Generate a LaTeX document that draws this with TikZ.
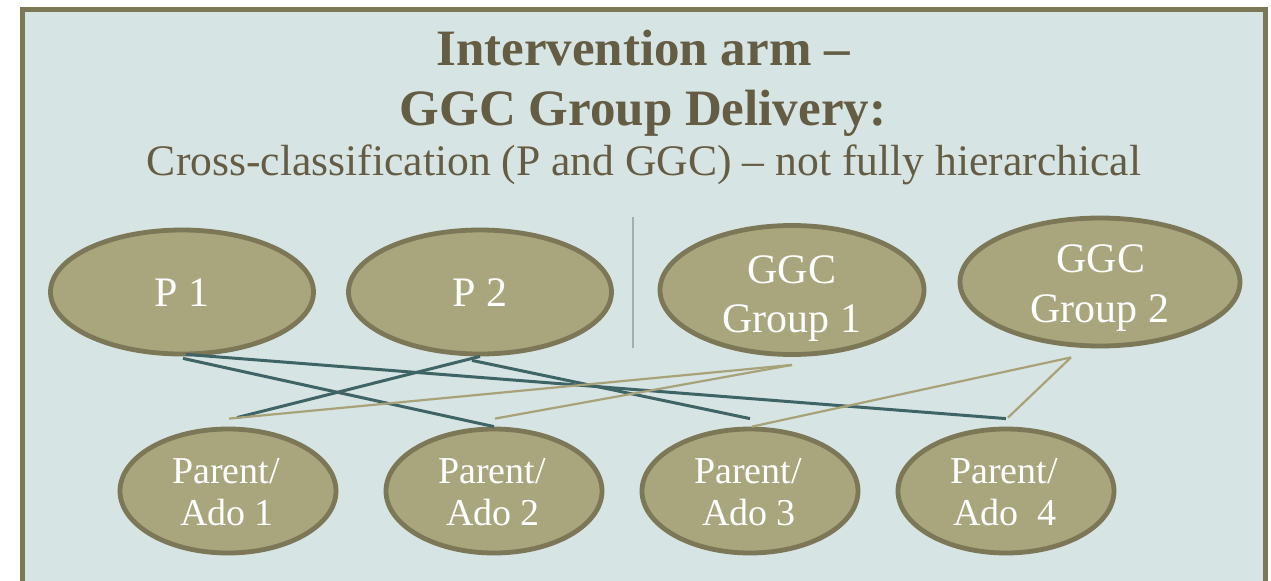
\documentclass[tikz,border=0pt]{standalone}
\usepackage{fontspec}
\setmainfont{Liberation Serif}
\usetikzlibrary{shapes.geometric,calc}
\definecolor{framec}{HTML}{7B7757}
\definecolor{bgc}{HTML}{D6E4E3}
\definecolor{ellc}{HTML}{A9A67D}
\definecolor{titlec}{HTML}{655C44}
\definecolor{tealc}{HTML}{3F6466}
\definecolor{tanc}{HTML}{A8A278}
\definecolor{sepc}{HTML}{9FB0AE}
\begin{document}
\begin{tikzpicture}[x=0.5pt,y=-0.5pt,
  bubble/.style={ellipse, draw=framec, line width=2.4pt, fill=ellc, inner sep=0pt},
  pbub/.style={bubble, minimum width=131.5pt, minimum height=62pt},
  abub/.style={bubble, minimum width=108pt, minimum height=62pt},
  titletxt/.style={anchor=base, inner sep=0pt, text=titlec, font=\fontsize{25.5}{29}\selectfont\bfseries},
  subtxt/.style={anchor=base, inner sep=0pt, text=titlec, font=\fontsize{21.8}{25}\selectfont},
  bigtxt/.style={anchor=base, inner sep=0pt, text=white, font=\fontsize{21}{24}\selectfont},
  smalltxt/.style={anchor=base, inner sep=0pt, text=white, font=\fontsize{19}{21}\selectfont},
  tealline/.style={draw=tealc, line width=1.5pt},
  tanline/.style={draw=tanc, line width=1.1pt},
  sepline/.style={draw=sepc, line width=1pt}
]
\useasboundingbox (0,0) rectangle (1271,580);
\fill[white] (0,0) rectangle (1271,580);
\draw[framec, line width=2.5pt, fill=bgc] (22.5,9) rectangle (1265.5,620);

% titles
\node[titletxt] (t1) at (643,65) {Intervention arm –};
\node[titletxt] (t2) at (643,125) {GGC Group Delivery:};
\node[subtxt] (t3) at (644,175) {Cross-classification (P and GGC) – not fully hierarchical};

% separator
\coordinate (s1) at (633,217);
\coordinate (s2) at (633,348);
\draw[sepline] (s1) -- (s2);

% top ellipses
\node[pbub] (p1) at (182,292) {};
\node[pbub] (p2) at (480,292) {};
\node[bubble, minimum width=132pt, minimum height=64.5pt] (g1) at (792,290) {};
\node[bubble, minimum width=140pt, minimum height=64pt] (g2) at (1100,282) {};

% bottom ellipses
\node[abub] (a1) at (228,491) {};
\node[abub] (a2) at (494,491) {};
\node[abub] (a3) at (750,491) {};
\node[abub] (a4) at (1006,491) {};

% texts in ellipses
\node[bigtxt] (p1t) at (182,306) {P 1};
\node[bigtxt] (p2t) at (480,306) {P 2};
\node[bigtxt] (g1a) at (792,283) {GGC};
\node[bigtxt] (g1b) at (792,332) {Group 1};
\node[bigtxt] (g2a) at (1101,272) {GGC};
\node[bigtxt] (g2b) at (1100,322) {Group 2};
\node[smalltxt] (a1a) at (226,483) {Parent/};
\node[smalltxt] (a1b) at (227,525) {Ado 1};
\node[smalltxt] (a2a) at (492,483) {Parent/};
\node[smalltxt] (a2b) at (493,525) {Ado 2};
\node[smalltxt] (a3a) at (748,483) {Parent/};
\node[smalltxt] (a3b) at (749,525) {Ado 3};
\node[smalltxt] (a4a) at (1004,483) {Parent/};
\node[smalltxt] (a4b) at (1005,525) {Ado\ \ 4};

% teal connectors (P to Parent/Ado)
\draw[tealline] ([xshift=2pt,yshift=1pt]p1.south) -- ([yshift=4pt]a4.north);
\draw[tealline] ([xshift=0.5pt,yshift=-1pt]p1.south) -- (a2.north);
\draw[tealline] ([xshift=4.5pt,yshift=4.5pt]a1.north) -- (p2.south);
\draw[tealline] ([xshift=-4pt,yshift=-2pt]p2.south) -- ([yshift=4pt]a3.north);

% tan connectors (GGC to Parent/Ado)
\draw[tanline] ([xshift=0.5pt,yshift=4pt]a1.north) -- ([yshift=-4pt]g1.south);
\draw[tanline] ([xshift=0.5pt,yshift=4pt]a2.north) -- ([yshift=-4pt]g1.south);
\draw[tanline] ([xshift=1pt]a3.north) -- ([xshift=-14.5pt,yshift=-4.5pt]g2.south);
\draw[tanline] ([xshift=1pt,yshift=4.5pt]a4.north) -- ([xshift=-14.5pt,yshift=-4.5pt]g2.south);
\end{tikzpicture}
\end{document}
